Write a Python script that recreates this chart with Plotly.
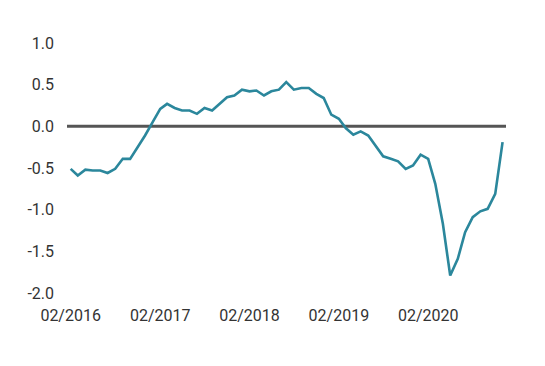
import pandas as pd
import plotly.graph_objects as go

months = pd.date_range("2016-02-01", "2020-12-01", freq="MS")
values = [
    -0.51, -0.59, -0.52, -0.53, -0.53, -0.56, -0.51, -0.39, -0.39, -0.25,
    -0.11, 0.05, 0.21, 0.27, 0.22, 0.19, 0.19, 0.15, 0.22, 0.19,
    0.27, 0.35, 0.37, 0.44, 0.42, 0.43, 0.37, 0.42, 0.44, 0.53,
    0.44, 0.46, 0.46, 0.39, 0.34, 0.14, 0.09, -0.02, -0.10, -0.06,
    -0.11, -0.23, -0.36, -0.39, -0.42, -0.51, -0.47, -0.34, -0.39, -0.69,
    -1.17, -1.79, -1.59, -1.27, -1.09, -1.02, -0.99, -0.81, -0.19,
]
x_tick_dates = ["2016-02-01", "2017-02-01", "2018-02-01", "2019-02-01", "2020-02-01"]
x_tick_labels = ["02/2016", "02/2017", "02/2018", "02/2019", "02/2020"]
y_ticks = [1.0, 0.5, 0.0, -0.5, -1.0, -1.5, -2.0]
y_tick_labels = ["1.0", "0.5", "0.0", "-0.5", "-1.0", "-1.5", "-2.0"]

fig = go.Figure()
fig.add_trace(go.Scatter(
    x=months, y=values, mode="lines",
    line=dict(color="#2b879c", width=2.6),
    hoverinfo="skip", showlegend=False,
))
fig.add_shape(type="line", xref="paper", yref="y", x0=0, x1=1, y0=0, y1=0,
              line=dict(color="#555555", width=3), layer="below")

font = dict(family="Roboto, Arial, sans-serif", size=16, color="#333333")
fig.update_layout(
    width=545, height=366,
    margin=dict(l=59, r=47, t=35, b=81),
    paper_bgcolor="white", plot_bgcolor="white",
    font=font,
    xaxis=dict(
        range=["2016-01-17", "2020-12-15"],
        tickvals=x_tick_dates, ticktext=x_tick_labels,
        showgrid=False, zeroline=False, showline=False,
        ticks="", ticklabelstandoff=11, tickfont=font,
    ),
    yaxis=dict(
        range=[-2.0, 1.0],
        tickvals=y_ticks, ticktext=y_tick_labels,
        showgrid=False, zeroline=False, showline=False,
        ticks="", ticklabelstandoff=12, tickfont=font,
    ),
)
fig.write_html("out.html")
